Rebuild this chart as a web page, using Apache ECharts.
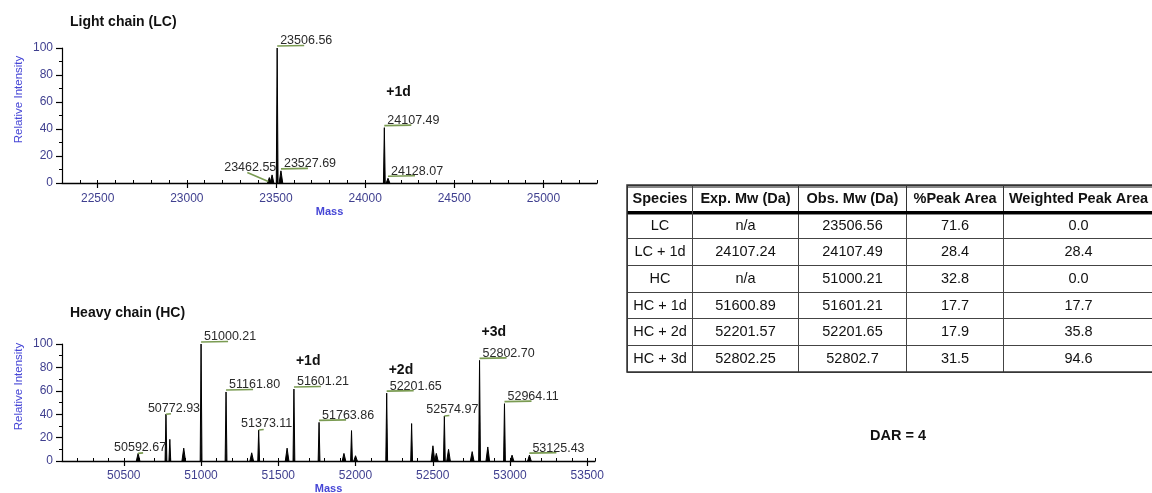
<!DOCTYPE html>
<html><head><meta charset="utf-8">
<script src="https://cdn.jsdelivr.net/npm/echarts@6/dist/echarts.min.js"></script>
<style>html,body{margin:0;padding:0;background:#fff}#c{width:1152px;height:493px}</style>
</head><body><div id="c"></div>
<script>
// ---------- data ----------
const lcMassTicks = [22500, 23000, 23500, 24000, 24500, 25000];
const hcMassTicks = [50500, 51000, 51500, 52000, 52500, 53000, 53500];

// [mass, relative intensity]
const lcPeaks = [[23462.55, 4], [23478, 6], [23506.56, 100], [23527.69, 9], [24107.49, 41], [24128.07, 3.5]];
const hcPeaks = [
  [50592.67, 6.5], [50772.93, 40], [50798, 18.5], [50888, 11], [51000.21, 100],
  [51161.80, 59], [51328, 7], [51373.11, 26.5], [51557, 11], [51601.21, 61.5],
  [51763.86, 33], [51925, 6.5], [51974, 26], [52000, 4.5], [52201.65, 58],
  [52363, 32], [52501, 13], [52523, 6.5], [52574.97, 38.5], [52602, 10],
  [52755, 8], [52802.70, 86], [52856, 12], [52964.11, 49], [53013, 5], [53125.43, 5]
];
const lcLabeled = [23462.55, 23506.56, 23527.69, 24107.49, 24128.07];
const hcLabeled = [50592.67, 50772.93, 51000.21, 51161.80, 51373.11, 51601.21, 51763.86, 52201.65, 52574.97, 52802.70, 52964.11, 53125.43];

// annotations: text and [mass, intensity] anchor
const lcNotes = ['+1d'];
const lcNoteAt = [[24107.49, 67]];
const hcNotes = ['+1d', '+2d', '+3d'];
const hcNoteAt = [[51601.21, 85], [52201.65, 78], [52802.70, 110]];

// table
const species = ['LC', 'LC + 1d', 'HC', 'HC + 1d', 'HC + 2d', 'HC + 3d'];
const tableHeaders = ['Exp. Mw (Da)', 'Obs. Mw (Da)', '%Peak Area', 'Weighted Peak Area'];
const expMw = ['n/a', '24107.24', 'n/a', '51600.89', '52201.57', '52802.25'];
const obsMw = ['23506.56', '24107.49', '51000.21', '51601.21', '52201.65', '52802.7'];
const peakArea = ['71.6', '28.4', '32.8', '17.7', '17.9', '31.5'];
const weightedArea = ['0.0', '28.4', '0.0', '17.7', '35.8', '94.6'];

// ---------- layout / style (not data) ----------
const lcLabelModes = ['left', 'right', 'right', 'right', 'right'];
const hcLabelModes = ['over', 'over', 'right', 'right', 'over', 'right', 'right', 'right', 'over', 'right', 'right', 'right'];
const hcOverDx = {0: 2};
const colWidths = [106, 108, 97, 150];

const FONT = '"Liberation Sans", Arial, sans-serif';
const AX = '#3f3f8f';
const NAMEC = '#4646d6';
const GREEN = '#7a9b52';

function heightOf(peaks, m) {
  for (const p of peaks) if (p[0] === m) return p[1];
  return 0;
}

function peakRender(params, api) {
  const m = api.value(0), h = api.value(1);
  const top = api.coord([m, h]);
  const base = api.coord([m, 0]);
  const hw = h > 15 ? 0.9 : 1.8;
  return {
    type: 'polygon',
    shape: { points: [[base[0] - hw, base[1]], [top[0], top[1]], [base[0] + hw, base[1]]] },
    style: { fill: '#000', stroke: '#000', lineWidth: 1 }
  };
}

function labelRender(modes, overDx) {
  return function (params, api) {
    const m = api.value(0), h = api.value(1);
    const p = api.coord([m, h]);
    const txt = m.toFixed(2);
    const mode = modes[params.dataIndex];
    const font = '12.5px ' + FONT;
    let line, tx, ty, align;
    if (mode === 'right') {
      line = { x1: p[0], y1: p[1] - 2, x2: p[0] + 27, y2: p[1] - 2.5 };
      tx = p[0] + 3; ty = p[1] - 7; align = 'left';
    } else if (mode === 'over') {
      const dx = overDx[params.dataIndex] !== undefined ? overDx[params.dataIndex] : 8;
      line = { x1: p[0], y1: p[1], x2: p[0] + 5, y2: p[1] - 0.5 };
      tx = p[0] + dx; ty = p[1] - 6; align = 'center';
    } else {
      line = { x1: p[0] - 22, y1: p[1] - 5, x2: p[0] - 1, y2: p[1] + 4 };
      tx = p[0] + 7; ty = p[1] - 10.5; align = 'right';
    }
    return {
      type: 'group',
      children: [
        { type: 'line', shape: line, style: { stroke: GREEN, lineWidth: 1.6 } },
        { type: 'text', style: { text: txt, x: tx, y: ty, fill: '#2a2a2a', font: font, align: align, verticalAlign: 'middle', textAlign: align, textVerticalAlign: 'middle' } }
      ]
    };
  };
}

function noteRender(texts) {
  return function (params, api) {
    const p = api.coord([api.value(0), api.value(1)]);
    return {
      type: 'text',
      style: { text: texts[params.dataIndex], x: p[0] + 2, y: p[1], fill: '#111', font: 'bold 14px ' + FONT, align: 'left', verticalAlign: 'middle', textAlign: 'left', textVerticalAlign: 'middle' }
    };
  };
}

function yAxisOpt(gridIndex) {
  return {
    type: 'value', gridIndex: gridIndex, min: 0, max: 100, interval: 20,
    name: 'Relative Intensity', nameLocation: 'middle', nameGap: 37,
    nameTextStyle: { color: NAMEC, fontSize: 11.5, fontFamily: FONT, padding: [0, 0, 0, 32] },
    axisLine: { show: true, lineStyle: { color: '#000', width: 1.2 } },
    axisTick: { show: true, length: 6, lineStyle: { color: '#000', width: 1.2 } },
    minorTick: { show: true, splitNumber: 2, length: 3, lineStyle: { color: '#000', width: 1 } },
    splitLine: { show: false },
    axisLabel: { color: AX, fontSize: 12, fontFamily: FONT, margin: 9 }
  };
}

function xAxisMajor(gridIndex, min, max, ticks, nameGap, margin) {
  return {
    type: 'value', gridIndex: gridIndex, min: min, max: max, position: 'bottom',
    name: 'Mass', nameLocation: 'middle', nameGap: nameGap,
    nameTextStyle: { color: NAMEC, fontSize: 11, fontWeight: 'bold', fontFamily: FONT },
    axisLine: { show: true, onZero: false, lineStyle: { color: '#000', width: 1.4 } },
    axisTick: { show: true, length: 5, customValues: ticks, lineStyle: { color: '#000', width: 1.2 } },
    axisLabel: { customValues: ticks, color: AX, fontSize: 12, fontFamily: FONT, margin: margin, formatter: function (v) { return String(v); } },
    splitLine: { show: false }
  };
}

function xAxisMinor(gridIndex, min, max) {
  return {
    type: 'value', gridIndex: gridIndex, min: min, max: max, interval: 100, position: 'bottom', offset: 0,
    axisLine: { show: false, onZero: false },
    axisTick: { show: true, inside: true, length: 3, lineStyle: { color: '#000', width: 1 } },
    axisLabel: { show: false },
    splitLine: { show: false }
  };
}

const bodyData = [];
[expMw, obsMw, peakArea, weightedArea].forEach(function (col, c) {
  col.forEach(function (v, r) { bodyData.push({ coord: [c, r], value: v }); });
});

const cellStyle = { color: 'transparent', borderColor: '#444', borderWidth: 1 };
const headStyle = { color: '#fff', borderColor: '#333', borderWidth: 1, shadowColor: '#111', shadowBlur: 0, shadowOffsetX: 0, shadowOffsetY: 1.5 };

const option = {
  backgroundColor: '#fff',
  animation: false,
  title: [
    { text: 'Light chain (LC)', left: 70, top: 15, padding: 0, textStyle: { fontSize: 14, fontWeight: 'bold', color: '#111', fontFamily: FONT } },
    { text: 'Heavy chain (HC)', left: 70, top: 306, padding: 0, textStyle: { fontSize: 14, fontWeight: 'bold', color: '#111', fontFamily: FONT } },
    { text: 'DAR = 4', left: 870, top: 428, padding: 0, textStyle: { fontSize: 14.5, fontWeight: 'bold', color: '#111', fontFamily: FONT } }
  ],
  grid: [
    { left: 62, top: 48, width: 535, height: 135, outerBoundsMode: 'none' },
    { left: 62, top: 344, width: 533, height: 117, outerBoundsMode: 'none' }
  ],
  xAxis: [
    xAxisMajor(0, 22300, 25300, lcMassTicks, 23, 10),
    xAxisMinor(0, 22300, 25300),
    xAxisMajor(1, 50100, 53550, hcMassTicks, 22, 9),
    xAxisMinor(1, 50100, 53550)
  ],
  yAxis: [yAxisOpt(0), yAxisOpt(1)],
  matrix: {
    left: 627, top: 185, width: 526, height: 187,
    x: {
      data: tableHeaders.map(function (t, i) { return { value: t, size: colWidths[i] }; }),
      levelSize: 27,
      label: { fontSize: 14.5, fontWeight: 'bold', color: '#111', fontFamily: FONT },
      itemStyle: headStyle,
      dividerLineStyle: { color: '#000', width: 3 }
    },
    y: {
      data: species,
      levelSize: 65,
      label: { fontSize: 14.5, color: '#111', fontFamily: FONT },
      itemStyle: cellStyle,
      dividerLineStyle: { color: '#444', width: 1 }
    },
    corner: {
      data: [{ coord: [-1, -1], value: 'Species' }],
      label: { fontSize: 14.5, fontWeight: 'bold', color: '#111', fontFamily: FONT },
      itemStyle: headStyle
    },
    body: {
      data: bodyData,
      label: { fontSize: 14.5, color: '#111', fontFamily: FONT },
      itemStyle: cellStyle
    },
    backgroundStyle: { color: 'transparent', borderColor: '#333', borderWidth: 1.5 }
  },
  series: [
    { type: 'custom', xAxisIndex: 0, yAxisIndex: 0, data: lcPeaks, renderItem: peakRender, clip: false, silent: true },
    { type: 'custom', xAxisIndex: 0, yAxisIndex: 0, data: lcLabeled.map(function (m) { return [m, heightOf(lcPeaks, m)]; }), renderItem: labelRender(lcLabelModes, {}), clip: false, silent: true, z: 3 },
    { type: 'custom', xAxisIndex: 0, yAxisIndex: 0, data: lcNoteAt, renderItem: noteRender(lcNotes), clip: false, silent: true },
    { type: 'custom', xAxisIndex: 2, yAxisIndex: 1, data: hcPeaks, renderItem: peakRender, clip: false, silent: true },
    { type: 'custom', xAxisIndex: 2, yAxisIndex: 1, data: hcLabeled.map(function (m) { return [m, heightOf(hcPeaks, m)]; }), renderItem: labelRender(hcLabelModes, hcOverDx), clip: false, silent: true, z: 3 },
    { type: 'custom', xAxisIndex: 2, yAxisIndex: 1, data: hcNoteAt, renderItem: noteRender(hcNotes), clip: false, silent: true }
  ]
};

const chart = echarts.init(document.getElementById('c'), null, { renderer: 'canvas' });
chart.setOption(option);
</script>
</body></html>
